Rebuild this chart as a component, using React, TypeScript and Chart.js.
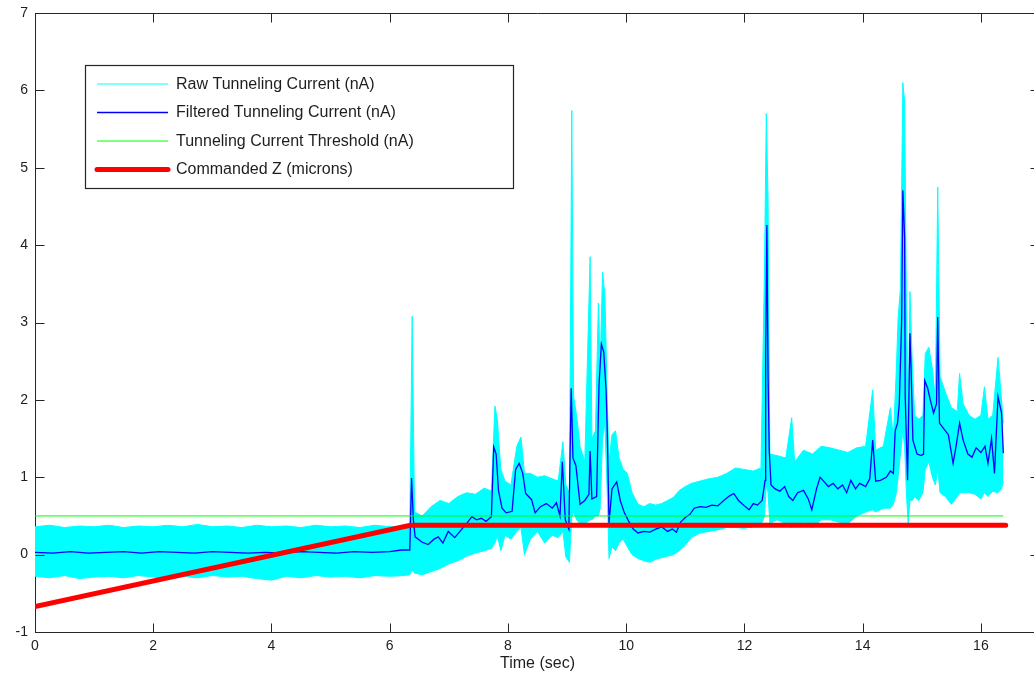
import React, { useEffect, useRef } from "react";
import { Chart, registerables } from "chart.js";

Chart.register(...registerables);

// Axis ticks
const xTickValues = [0, 2, 4, 6, 8, 10, 12, 14, 16];
const yTickValues = [-1, 0, 1, 2, 3, 4, 5, 6, 7];

// Raw tunneling current (nA): upper and lower extent of the noisy trace
const rawTime = [
  0.0, 0.25, 0.5, 0.75, 1.0, 1.25, 1.5, 1.75, 2.0, 2.25, 2.5, 2.75, 3.0, 3.25, 3.5, 3.75,
  4.0, 4.25, 4.5, 4.75, 5.0, 5.25, 5.5, 5.75, 6.0, 6.25, 6.34, 6.38, 6.42, 6.55, 6.7, 6.85,
  7.0, 7.15, 7.3, 7.45, 7.6, 7.72, 7.78, 7.82, 7.88, 7.95, 8.05, 8.15, 8.22, 8.28, 8.38, 8.5,
  8.62, 8.75, 8.85, 8.93, 8.98, 9.04, 9.08, 9.11, 9.16, 9.22, 9.3, 9.39, 9.42, 9.48, 9.53, 9.56,
  9.6, 9.64, 9.68, 9.71, 9.76, 9.82, 9.88, 9.95, 10.02, 10.1, 10.2, 10.3, 10.4, 10.5, 10.6, 10.7,
  10.8, 10.9, 11.0, 11.1, 11.25, 11.4, 11.55, 11.7, 11.85, 12.0, 12.15, 12.28, 12.34, 12.37, 12.4, 12.43,
  12.55, 12.7, 12.8, 12.85, 13.0, 13.15, 13.3, 13.45, 13.6, 13.75, 13.9, 14.05, 14.17, 14.22, 14.35, 14.47,
  14.52, 14.57, 14.6, 14.64, 14.68, 14.71, 14.74, 14.77, 14.8, 14.84, 14.88, 14.95, 15.02, 15.06, 15.12, 15.18,
  15.23, 15.27, 15.31, 15.4, 15.5, 15.6, 15.64, 15.7, 15.8, 15.9, 16.0, 16.06, 16.12, 16.2, 16.29, 16.35,
  16.38,
];
const rawHigh = [
  0.36, 0.38, 0.35, 0.37, 0.36, 0.38, 0.35, 0.37, 0.36, 0.38, 0.36, 0.39, 0.36, 0.37, 0.35, 0.38,
  0.36, 0.37, 0.35, 0.38, 0.36, 0.37, 0.35, 0.38, 0.36, 0.37, 0.38, 3.08, 0.55, 0.5, 0.62, 0.7,
  0.66, 0.75, 0.8, 0.78, 0.86, 0.82, 1.92, 1.75, 1.1, 0.95, 0.9, 1.4, 1.52, 1.05, 1.05, 1.0,
  1.02, 0.98, 0.95, 1.46, 0.9, 0.8, 5.74, 2.05, 1.8, 1.4, 1.2, 3.85, 1.5, 1.6, 3.25, 2.4,
  3.65, 3.35, 2.0, 1.2, 1.55, 1.6, 1.25, 1.1, 1.05, 0.8, 0.65, 0.62, 0.66, 0.64, 0.66, 0.7,
  0.74, 0.83, 0.88, 0.92, 0.95, 0.98, 1.0, 1.05, 1.12, 1.1, 1.08, 1.12, 3.7, 5.7, 4.6, 1.3,
  1.28, 1.25, 1.77, 1.2, 1.35, 1.3, 1.4, 1.38, 1.35, 1.32, 1.38, 1.4, 2.13, 1.35, 1.4, 1.9,
  1.5, 2.4, 3.05, 3.45, 6.1, 5.85, 3.2, 1.7, 3.4, 2.45, 1.8, 1.75, 1.8, 2.6, 2.68, 2.4,
  2.0, 4.75, 2.3, 2.1, 1.9, 1.85, 2.34, 1.95, 1.8, 1.75, 1.8, 2.17, 1.75, 1.8, 2.55, 2.0,
  1.7,
];
const rawLow = [
  -0.28, -0.3, -0.27, -0.31, -0.29, -0.28, -0.3, -0.27, -0.29, -0.31, -0.28, -0.3, -0.27, -0.29, -0.28, -0.31,
  -0.33, -0.28, -0.3, -0.27, -0.29, -0.28, -0.3, -0.27, -0.28, -0.27, -0.26, -0.2, -0.24, -0.26, -0.22, -0.18,
  -0.12, -0.08, -0.02, 0.02, 0.05, 0.08, 0.15, 0.25, 0.05, 0.25, 0.2, 0.3, 0.35, 0.0, 0.2, 0.3,
  0.15, 0.25, 0.22, 0.3, -0.03, -0.1, 0.5, 0.55, 0.45, 0.4, 0.4, 0.45, 0.45, 0.5, 0.5, 0.6,
  1.5, 1.7, 0.8, -0.05, 0.1, 0.05, 0.15, 0.2, 0.1, 0.0, -0.05, -0.08, -0.1, -0.06, -0.04, -0.02,
  0.0, 0.05, 0.12, 0.22, 0.28, 0.3, 0.32, 0.35, 0.35, 0.34, 0.36, 0.38, 0.5, 0.9, 0.8, 0.4,
  0.45, 0.4, 0.35, 0.38, 0.42, 0.35, 0.45, 0.45, 0.42, 0.4, 0.5, 0.55, 0.58, 0.55, 0.6, 0.6,
  0.65, 0.8, 1.0, 1.3, 1.6, 1.4, 0.8, 0.4, 0.7, 0.7, 0.75, 0.7, 0.8, 1.1, 1.2, 1.0,
  0.9, 1.1, 0.8, 0.75, 0.65, 0.75, 0.8, 0.8, 0.8, 0.78, 0.72, 0.8, 0.75, 0.82, 0.8, 0.85,
  0.95,
];

// Filtered tunneling current (nA)
const filteredTime = [
  0.0, 0.3, 0.6, 0.9, 1.2, 1.5, 1.8, 2.1, 2.4, 2.7, 3.0, 3.3, 3.6, 3.9, 4.2, 4.5,
  4.8, 5.1, 5.4, 5.7, 6.0, 6.2, 6.34, 6.37, 6.4, 6.43, 6.55, 6.65, 6.75, 6.82, 6.9, 6.99,
  7.1, 7.22, 7.3, 7.39, 7.47, 7.55, 7.63, 7.72, 7.76, 7.8, 7.84, 7.9, 7.97, 8.07, 8.13, 8.19,
  8.25, 8.3, 8.4, 8.46, 8.55, 8.65, 8.75, 8.82, 8.88, 8.92, 8.97, 9.03, 9.07, 9.1, 9.15, 9.22,
  9.3, 9.37, 9.39, 9.42, 9.5, 9.54, 9.58, 9.62, 9.66, 9.68, 9.71, 9.76, 9.84, 9.9, 9.97, 10.05,
  10.12, 10.2, 10.3, 10.4, 10.5, 10.6, 10.7, 10.78, 10.85, 10.92, 11.0, 11.08, 11.15, 11.25, 11.35, 11.45,
  11.55, 11.65, 11.75, 11.82, 11.9, 12.0, 12.08, 12.15, 12.22, 12.3, 12.35, 12.36, 12.38, 12.4, 12.42, 12.45,
  12.52, 12.6, 12.68, 12.75, 12.82, 12.9, 13.0, 13.08, 13.14, 13.22, 13.28, 13.34, 13.42, 13.5, 13.58, 13.66,
  13.73, 13.8, 13.88, 13.95, 14.05, 14.12, 14.17, 14.22, 14.3, 14.4, 14.47, 14.52, 14.55, 14.59, 14.62, 14.66,
  14.68, 14.71, 14.72, 14.76, 14.8, 14.82, 14.85, 14.92, 14.99, 15.03, 15.05, 15.1, 15.15, 15.2, 15.25, 15.27,
  15.3, 15.38, 15.45, 15.53, 15.58, 15.64, 15.7, 15.78, 15.85, 15.92, 16.0, 16.07, 16.12, 16.18, 16.23, 16.29,
  16.35, 16.38,
];
const filteredCurrent = [
  0.03, 0.02, 0.04, 0.02, 0.03, 0.04, 0.02, 0.04, 0.03, 0.02, 0.04, 0.03, 0.02, 0.03, 0.02, 0.04,
  0.03, 0.02, 0.04, 0.03, 0.04, 0.06, 0.06, 0.99, 0.45, 0.23, 0.16, 0.13, 0.2, 0.23, 0.15, 0.3,
  0.22, 0.33, 0.4, 0.49, 0.45, 0.47, 0.43, 0.49, 1.39, 1.3, 0.83, 0.6, 0.54, 0.56, 1.1, 1.18,
  1.05, 0.79, 0.71, 0.54, 0.62, 0.66, 0.6, 0.67, 0.5, 1.2, 0.45, 0.33, 2.15, 1.25, 1.15, 0.65,
  0.7, 0.78, 1.34, 0.72, 0.75, 2.18, 2.72, 2.62, 2.13, 1.6, 0.41, 0.85, 0.94, 0.7, 0.54, 0.42,
  0.33, 0.28, 0.3, 0.29, 0.33, 0.36, 0.3, 0.33, 0.29, 0.42, 0.48, 0.52, 0.6, 0.62, 0.61, 0.64,
  0.63, 0.7, 0.76, 0.79, 0.7, 0.63, 0.58, 0.66, 0.64, 0.7, 0.96, 2.54, 4.26, 2.3, 1.35, 0.9,
  0.85, 0.82, 0.88, 0.75, 0.7, 0.8, 0.83, 0.72, 0.58, 0.85, 1.0, 0.95, 0.88, 0.92, 0.85, 0.9,
  0.8, 0.96, 0.85, 0.92, 0.88, 0.98, 1.48, 0.95, 0.96, 1.0, 1.08, 1.05, 1.6, 1.7, 1.95, 3.03,
  4.71, 4.1, 2.04, 0.96, 2.86, 2.38, 1.48, 1.3, 1.28, 1.3, 2.25, 2.15, 1.98, 1.83, 1.95, 3.07,
  1.7, 1.62, 1.55, 1.18, 1.4, 1.7, 1.48, 1.3, 1.26, 1.38, 1.32, 1.4, 1.18, 1.5, 1.05, 2.04,
  1.83, 1.31,
];

// Tunneling current threshold (nA)
const thresholdTime = [0, 16.38];
const thresholdCurrent = [0.5, 0.5];

// Commanded Z (microns)
const commandTime = [0, 6.35, 16.42];
const commandedZ = [-0.67, 0.38, 0.38];

const seriesLabels = [
  "Raw Tunneling Current (nA)",
  "Filtered Tunneling Current (nA)",
  "Tunneling Current Threshold (nA)",
  "Commanded Z (microns)",
];
const xTitle = "Time (sec)";

const FONT = "'Liberation Sans', Arial, Helvetica, sans-serif";
const TEXT = "#1e1e1e";
const FRAME = "#262626";

const pts = (xs: number[], ys: number[]) => xs.map((x, i) => ({ x, y: ys[i] }));

// Full box with inward tick marks on all four sides, plus a boxed legend
const framePlugin = {
  id: "frameAndLegend",
  afterDraw(chart: any) {
    const { ctx, chartArea: a, scales } = chart;
    const xs = scales.x;
    const ys = scales.y;
    const tick = 9;
    ctx.save();
    ctx.strokeStyle = FRAME;
    ctx.lineWidth = 1;
    ctx.beginPath();
    const top = Math.round(a.top) + 0.5;
    const right = Math.round(a.right) - 0.5;
    const bottom = Math.round(a.bottom) + 0.5;
    const left = Math.round(a.left) + 0.5;
    ctx.moveTo(left, top);
    ctx.lineTo(right, top);
    ctx.lineTo(right, bottom);
    for (const v of xTickValues) {
      const px = Math.round(xs.getPixelForValue(v)) + 0.5;
      ctx.moveTo(px, bottom);
      ctx.lineTo(px, bottom - tick);
      ctx.moveTo(px, top);
      ctx.lineTo(px, top + tick);
    }
    for (const v of yTickValues) {
      const py = Math.round(ys.getPixelForValue(v)) + 0.5;
      ctx.moveTo(left, py);
      ctx.lineTo(left + tick, py);
      ctx.moveTo(right, py);
      ctx.lineTo(right - tick, py);
    }
    ctx.stroke();

    // legend
    const box = { x: 85.5, y: 65.5, w: 428, h: 123 };
    ctx.fillStyle = "#ffffff";
    ctx.fillRect(box.x, box.y, box.w, box.h);
    ctx.strokeStyle = FRAME;
    ctx.lineWidth = 1.2;
    ctx.strokeRect(box.x, box.y, box.w, box.h);
    const entries = chart.data.datasets.filter((d: any) => d.label);
    const rowY = [84, 112.5, 141, 169.5];
    ctx.font = `16px ${FONT}`;
    ctx.textBaseline = "middle";
    ctx.textAlign = "left";
    entries.forEach((d: any, i: number) => {
      const y = rowY[i];
      ctx.strokeStyle = d.borderColor;
      ctx.lineWidth = d.borderWidth;
      ctx.lineCap = d.borderWidth > 2 ? "round" : "butt";
      ctx.beginPath();
      ctx.moveTo(97, y);
      ctx.lineTo(168, y);
      ctx.stroke();
      ctx.fillStyle = TEXT;
      ctx.fillText(d.label, 176, y + 0.5);
    });
    ctx.restore();
  },
};

export default function App() {
  const canvasRef = useRef<HTMLCanvasElement | null>(null);

  useEffect(() => {
    const canvas = canvasRef.current;
    if (!canvas) return;
    const line = { pointRadius: 0, tension: 0, fill: false as any };
    const chart = new Chart(canvas, {
      type: "line",
      data: {
        datasets: [
          {
            ...line,
            label: seriesLabels[0],
            data: pts(rawTime, rawHigh),
            borderColor: "#00ffff",
            backgroundColor: "#00ffff",
            borderWidth: 1,
            order: 4,
          },
          {
            ...line,
            label: "",
            data: pts(rawTime, rawLow),
            borderColor: "#00ffff",
            backgroundColor: "#00ffff",
            borderWidth: 1,
            fill: "-1",
            order: 4,
          },
          {
            ...line,
            label: seriesLabels[1],
            data: pts(filteredTime, filteredCurrent),
            borderColor: "#0000ff",
            borderWidth: 1.3,
            order: 3,
          },
          {
            ...line,
            label: seriesLabels[2],
            data: pts(thresholdTime, thresholdCurrent),
            borderColor: "#00ff00",
            borderWidth: 1,
            order: 2,
          },
          {
            ...line,
            label: seriesLabels[3],
            data: pts(commandTime, commandedZ),
            borderColor: "#ff0000",
            borderWidth: 5,
            borderCapStyle: "round",
            order: 1,
          },
        ],
      },
      options: {
        animation: false,
        responsive: false,
        devicePixelRatio: 1,
        layout: { padding: { left: 0, top: 13, right: 10, bottom: 0 } },
        plugins: {
          legend: { display: false },
          tooltip: { enabled: false },
        },
        scales: {
          x: {
            type: "linear",
            min: 0,
            max: 17,
            grid: { display: false, drawTicks: false, tickLength: 0 },
            border: { display: true, color: FRAME, width: 1 },
            ticks: {
              color: TEXT,
              font: { family: FONT, size: 14 },
              padding: 6,
              maxRotation: 0,
              autoSkip: false,
            },
            title: {
              display: true,
              text: xTitle,
              color: TEXT,
              font: { family: FONT, size: 16 },
              padding: { top: 0, bottom: 0 },
            },
            afterBuildTicks: (s: any) => {
              s.ticks = xTickValues.map((v) => ({ value: v }));
            },
            afterFit: (s: any) => {
              s.height = 41;
              s.paddingLeft = 0;
              s.paddingRight = 0;
            },
          },
          y: {
            type: "linear",
            min: -1,
            max: 7,
            grid: { display: false, drawTicks: false, tickLength: 0 },
            border: { display: true, color: FRAME, width: 1 },
            ticks: {
              color: TEXT,
              font: { family: FONT, size: 14 },
              padding: 7,
              autoSkip: false,
            },
            afterBuildTicks: (s: any) => {
              s.ticks = yTickValues.map((v) => ({ value: v }));
            },
            afterFit: (s: any) => {
              s.width = 35;
              s.paddingTop = 0;
              s.paddingBottom = 0;
            },
          },
        },
      },
      plugins: [framePlugin],
    });
    return () => chart.destroy();
  }, []);

  return (
    <div
      style={{
        position: "absolute",
        left: 0,
        top: 0,
        width: 1034,
        height: 673,
        overflow: "hidden",
        background: "#ffffff",
      }}
    >
      <canvas
        ref={canvasRef}
        width={1050}
        height={673}
        style={{ display: "block", width: 1050, height: 673 }}
      />
    </div>
  );
}
